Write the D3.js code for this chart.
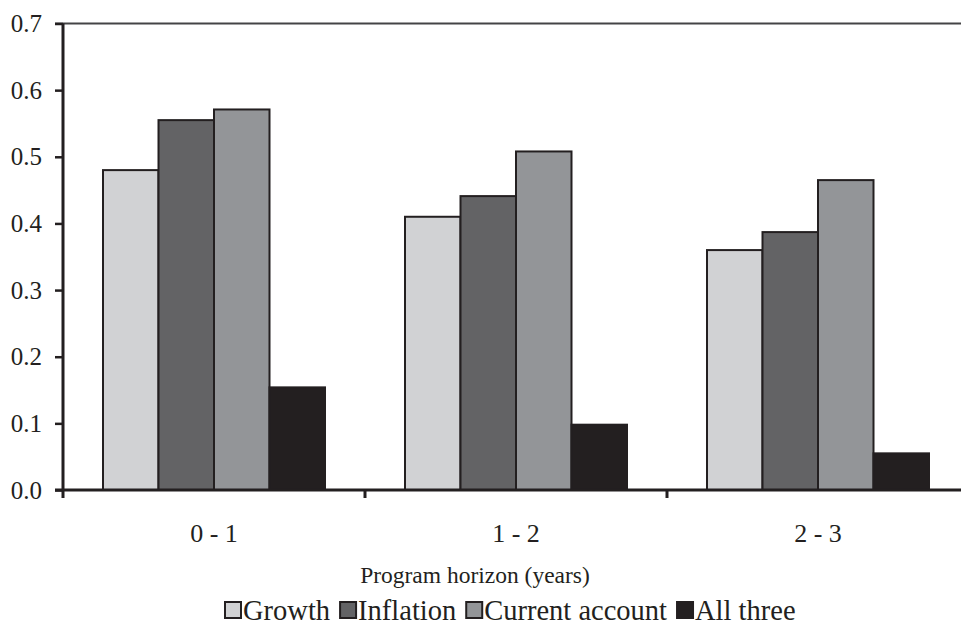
<!DOCTYPE html>
<html>
<head>
<meta charset="utf-8">
<script src="https://cdn.jsdelivr.net/npm/d3@7"></script>
<style>
  html, body { margin: 0; padding: 0; background: #fff; }
  svg { display: block; }
  text { font-family: "Liberation Serif", "Times New Roman", serif; fill: #231f20; }
</style>
</head>
<body>
<svg id="chart" width="961" height="627"></svg>
<script>
// Program horizon groups
const categories = ["0 - 1", "1 - 2", "2 - 3"];
// Series shown in each group
const seriesNames = ["Growth", "Inflation", "Current account", "All three"];
const seriesColors = ["#d1d2d4", "#636365", "#939598", "#231f20"];
// Values per series, one per horizon
const growth = [0.480, 0.410, 0.360];
const inflation = [0.555, 0.441, 0.387];
const currentAccount = [0.571, 0.508, 0.465];
const allThree = [0.154, 0.098, 0.055];
const yTicks = [0, 0.1, 0.2, 0.3, 0.4, 0.5, 0.6, 0.7];

const seriesValues = [growth, inflation, currentAccount, allThree];

const svg = d3.select("#chart");
const ink = "#231f20";

const plotLeft = 63, plotRight = 969, plotTop = 23.5, plotBottom = 490;

const x = d3.scaleBand().domain(categories).range([plotLeft, plotRight]);
// the four bars span ~222px of each 302px group
const barsSpan = 222;
const xInner = d3.scaleBand().domain(seriesNames)
  .range([0, x.bandwidth()]).paddingInner(0)
  .paddingOuter((x.bandwidth() - barsSpan) / 2 / (barsSpan / 4));

const y = d3.scaleLinear().domain([0, 0.7]).range([plotBottom, plotTop]);

// top frame line
svg.append("line")
  .attr("x1", plotLeft - 8).attr("x2", 961)
  .attr("y1", y(0.7)).attr("y2", y(0.7))
  .attr("stroke", "#444446").attr("stroke-width", 2);

// bars
const groups = svg.append("g").selectAll("g")
  .data(categories)
  .join("g")
  .attr("transform", d => `translate(${x(d)},0)`);

groups.selectAll("rect")
  .data((d, i) => seriesNames.map((s, k) => ({ s, k, v: seriesValues[k][i] })))
  .join("rect")
  .attr("x", d => xInner(d.s))
  .attr("width", xInner.bandwidth())
  .attr("y", d => y(d.v))
  .attr("height", d => y(0) - y(d.v))
  .attr("fill", d => seriesColors[d.k])
  .attr("stroke", ink)
  .attr("stroke-width", 2);

// y axis
const yAxis = d3.axisLeft(y).tickValues(yTicks).tickFormat(d3.format(".1f"))
  .tickSize(8).tickPadding(13);
const gy = svg.append("g").attr("transform", `translate(${plotLeft},0)`).call(yAxis);
gy.select(".domain").attr("stroke", ink).attr("stroke-width", 3)
  .attr("d", `M0,${plotTop}V${plotBottom + 8}`);
gy.selectAll(".tick line").attr("stroke", ink).attr("stroke-width", 2.5);
gy.selectAll(".tick text").attr("font-size", 25).attr("fill", ink)
  .style("font-family", '"Liberation Serif", serif');

// x axis: ticks on group boundaries
const gx = svg.append("g").attr("transform", `translate(0,${plotBottom})`);
gx.append("line").attr("x1", plotLeft - 8).attr("x2", plotRight)
  .attr("y1", 0).attr("y2", 0).attr("stroke", ink).attr("stroke-width", 3);
gx.selectAll("line.bound")
  .data(categories.slice(1))
  .join("line")
  .attr("class", "bound")
  .attr("x1", d => x(d)).attr("x2", d => x(d))
  .attr("y1", 0).attr("y2", 8)
  .attr("stroke", ink).attr("stroke-width", 3);
gx.selectAll("text")
  .data(categories)
  .join("text")
  .attr("x", d => x(d) + x.bandwidth() / 2)
  .attr("y", 52)
  .attr("text-anchor", "middle")
  .attr("font-size", 26)
  .text(d => d);

// axis title
svg.append("text")
  .attr("x", 475).attr("y", 583)
  .attr("text-anchor", "middle")
  .attr("font-size", 23.5)
  .text("Program horizon (years)");

// legend
const legend = svg.append("g").attr("transform", "translate(0,620)");
let lx = 224;
seriesNames.forEach((name, k) => {
  legend.append("rect")
    .attr("x", lx + 1).attr("y", -18)
    .attr("width", 16).attr("height", 16)
    .attr("fill", seriesColors[k]).attr("stroke", ink).attr("stroke-width", 2);
  const t = legend.append("text")
    .attr("x", lx + 19).attr("y", 0)
    .attr("font-size", 28.5)
    .text(name);
  lx += 19 + t.node().getComputedTextLength() + 9;
});
</script>
</body>
</html>
